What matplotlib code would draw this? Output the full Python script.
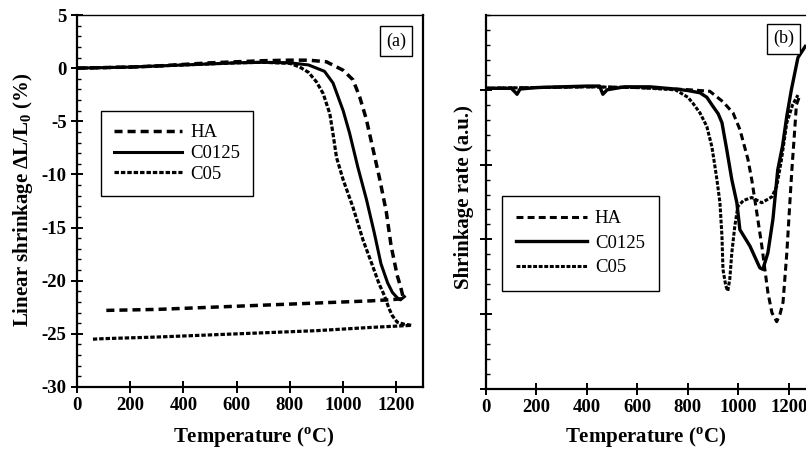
import matplotlib
matplotlib.use('Agg')
import matplotlib.pyplot as plt
from matplotlib.ticker import MultipleLocator, NullFormatter

plt.rcParams['font.family'] = ['Liberation Serif', 'DejaVu Serif']
plt.rcParams['mathtext.fontset'] = 'custom'
plt.rcParams['mathtext.rm'] = 'Liberation Serif'
plt.rcParams['mathtext.bf'] = 'Liberation Serif:bold'
plt.rcParams['lines.scale_dashes'] = False
plt.rcParams['axes.unicode_minus'] = False

# ---- panel (a) : linear shrinkage (%) ----
ha_a_x = [0, 100, 200, 300, 400, 500, 600, 700, 800, 870, 937, 1000, 1037, 1062, 1087,
          1112, 1137, 1162, 1180, 1203, 1215, 1222, 1226,
          1169, 1100, 900, 700, 500, 300, 94]
ha_a_y = [0.0, 0.05, 0.1, 0.2, 0.35, 0.5, 0.6, 0.7, 0.75, 0.75, 0.6, -0.2, -1.1, -2.7, -4.8,
          -7.6, -10.4, -13.5, -16.7, -19.5, -20.5, -21.2, -21.7,
          -21.8, -21.9, -22.1, -22.3, -22.5, -22.7, -22.8]

c0125_a_x = [0, 100, 200, 300, 400, 500, 600, 700, 800, 870, 930, 962, 1000, 1024, 1055,
             1088, 1117, 1142, 1167, 1185, 1203, 1215, 1230]
c0125_a_y = [0.0, 0.05, 0.1, 0.2, 0.3, 0.4, 0.5, 0.55, 0.5, 0.3, -0.3, -1.4, -4.0, -6.1, -9.3,
             -12.4, -15.5, -18.4, -20.2, -21.1, -21.6, -21.8, -21.5]

c05_a_x = [0, 100, 200, 300, 400, 500, 600, 700, 800, 837, 870, 900, 925, 950, 962, 975,
           1000, 1037, 1075, 1112, 1135, 1155, 1172, 1185, 1203, 1230, 1257,
           1100, 900, 700, 500, 300, 100, 60]
c05_a_y = [0.0, 0.05, 0.1, 0.2, 0.3, 0.4, 0.5, 0.55, 0.45, 0.1, -0.4, -1.3, -2.4, -4.3, -6.2, -8.4,
           -10.5, -13.1, -16.2, -18.7, -20.3, -21.4, -22.6, -23.3, -23.9, -24.1, -24.2,
           -24.4, -24.7, -24.9, -25.1, -25.3, -25.45, -25.5]

# ---- panel (b) : shrinkage rate (a.u.) ----
ha_b_x = [0, 200, 400, 600, 750, 808, 850, 887, 939, 979, 1006, 1038, 1053, 1077, 1093,
          1117, 1133, 1152, 1165, 1177, 1192, 1204, 1212, 1224, 1230, 1244]
ha_b_y = [0.02, 0.03, 0.04, 0.03, 0.01, 0.0, -0.01, -0.02, -0.16, -0.31, -0.53, -0.93, -1.2, -1.73, -2.09,
          -2.71, -2.98, -3.1, -3.0, -2.84, -2.18, -1.51, -1.07, -0.5, -0.2, -0.07]

c0125_b_x = [0, 50, 100, 115, 123, 135, 200, 300, 400, 450, 463, 480, 550, 650, 750, 800,
             848, 875, 899, 920, 935, 954, 974, 994, 1006, 1046, 1085, 1097, 1117, 1137,
             1156, 1175, 1192, 1210, 1236, 1265]
c0125_b_y = [0.02, 0.02, 0.02, -0.03, -0.06, 0.01, 0.03, 0.04, 0.05, 0.05, -0.06, 0.0, 0.04, 0.04, 0.01, -0.01,
             -0.04, -0.1, -0.22, -0.32, -0.44, -0.8, -1.2, -1.51, -1.87, -2.09, -2.38, -2.4, -2.18, -1.73,
             -1.07, -0.75, -0.35, 0.0, 0.43, 0.58]

c05_b_x = [0, 200, 400, 600, 750, 800, 820, 848, 875, 895, 907, 915, 927, 935, 939, 950,
           958, 966, 974, 986, 998, 1020, 1053, 1093, 1133, 1152, 1170, 1192, 1215, 1236]
c05_b_y = [0.02, 0.03, 0.04, 0.03, 0.0, -0.1, -0.18, -0.31, -0.49, -0.76, -1.02, -1.2, -1.51, -1.96, -2.4, -2.62,
           -2.69, -2.53, -2.18, -1.82, -1.56, -1.48, -1.44, -1.51, -1.43, -1.29, -0.95, -0.44, -0.2, -0.07]

labels = ['HA', 'C0125', 'C05']

fig = plt.figure(figsize=(8.06, 4.51), dpi=100)
ax1 = fig.add_axes([77/806, 1-387/451, 346/806, 372/451])
ax2 = fig.add_axes([486/806, 1-389/451, 320/806, 374/451])

#panel a
ax1.plot(ha_a_x, ha_a_y, color='k', lw=2.5, ls=(0, (5.8, 3.6)), label=labels[0])
ax1.plot(c0125_a_x, c0125_a_y, color='k', lw=2.2, ls='-', label=labels[1])
ax1.plot(c05_a_x, c05_a_y, color='k', lw=2.3, ls=(0, (3.2, 1.4)), label=labels[2])
ax1.set_xlim(0, 1300)
ax1.set_ylim(-30, 5)
ax1.set_xticks(range(0, 1201, 200))
ax1.set_yticks(range(-30, 6, 5))
ax1.yaxis.set_minor_locator(MultipleLocator(1))

#panel b
ax2.plot(ha_b_x, ha_b_y, color='k', lw=2.2, ls=(0, (5, 3)), label=labels[0])
ax2.plot(c0125_b_x, c0125_b_y, color='k', lw=2.4, ls='-', label=labels[1])
ax2.plot(c05_b_x, c05_b_y, color='k', lw=2.2, ls=(0, (2.8, 1.2)), label=labels[2])
ax2.set_xlim(0, 1268)
ax2.set_ylim(-4, 1)
ax2.set_xticks(range(0, 1201, 200))
ax2.set_yticks([-4, -3, -2, -1, 0])
ax2.yaxis.set_minor_locator(MultipleLocator(0.2))
ax2.yaxis.set_major_formatter(NullFormatter())
ax2.spines['right'].set_visible(False)

for ax in (ax1, ax2):
    ax.tick_params(which='major', direction='inout', length=9, width=1.4, labelsize=13.5, pad=3,
                   right=False, top=False)
    ax.tick_params(which='minor', direction='in', length=3, width=1.0, right=False, top=False)
    for lab in ax.get_xticklabels() + ax.get_yticklabels():
        lab.set_fontweight('bold')
    for s in ('left', 'bottom', 'right'):
        ax.spines[s].set_linewidth(1.6)
    ax.spines['top'].set_linewidth(1.0)

leg1 = ax1.legend(loc='upper left', bbox_to_anchor=((101-77)/346, (387-111)/372), fontsize=13.5,
                  frameon=True, fancybox=False, edgecolor='k', framealpha=1, borderaxespad=0,
                  handlelength=3.6, handletextpad=0.45, borderpad=0.7, labelspacing=0.2)
leg1.get_frame().set_linewidth(1.0)
leg2 = ax2.legend(loc='upper left', bbox_to_anchor=((502-486)/320, (389-196)/374), fontsize=13.5,
                  frameon=True, fancybox=False, edgecolor='k', framealpha=1, borderaxespad=0,
                  handlelength=3.8, handletextpad=0.4, borderpad=0.75, labelspacing=0.4)
leg2.get_frame().set_linewidth(1.0)

box = dict(boxstyle='square,pad=0.35', fc='white', ec='k', lw=1.0)
ax1.text(0.922, 0.929, '(a)', transform=ax1.transAxes, fontsize=13, ha='center', va='center', bbox=box)
ax2.text(0.93, 0.937, '(b)', transform=ax2.transAxes, fontsize=13, ha='center', va='center', bbox=box)

#axis labels
fig.text(254/806, 1-438/451, r'Temperature ($^{\mathbf{o}}$C)', fontsize=15, fontweight='bold',
         ha='center', va='center')
fig.text(646/806, 1-438/451, r'Temperature ($^{\mathbf{o}}$C)', fontsize=15, fontweight='bold',
         ha='center', va='center')
fig.text(23/806, 1-200/451, r'Linear shrinkage $\mathbf{\Delta}$L/L$_{\mathbf{0}}$ (%)', fontsize=15,
         fontweight='bold', rotation=90, ha='center', va='center')
fig.text(464/806, 1-197/451, 'Shrinkage rate (a.u.)', fontsize=15, fontweight='bold',
         rotation=90, ha='center', va='center')

fig.savefig('out.png', dpi=100)
plt.close()
